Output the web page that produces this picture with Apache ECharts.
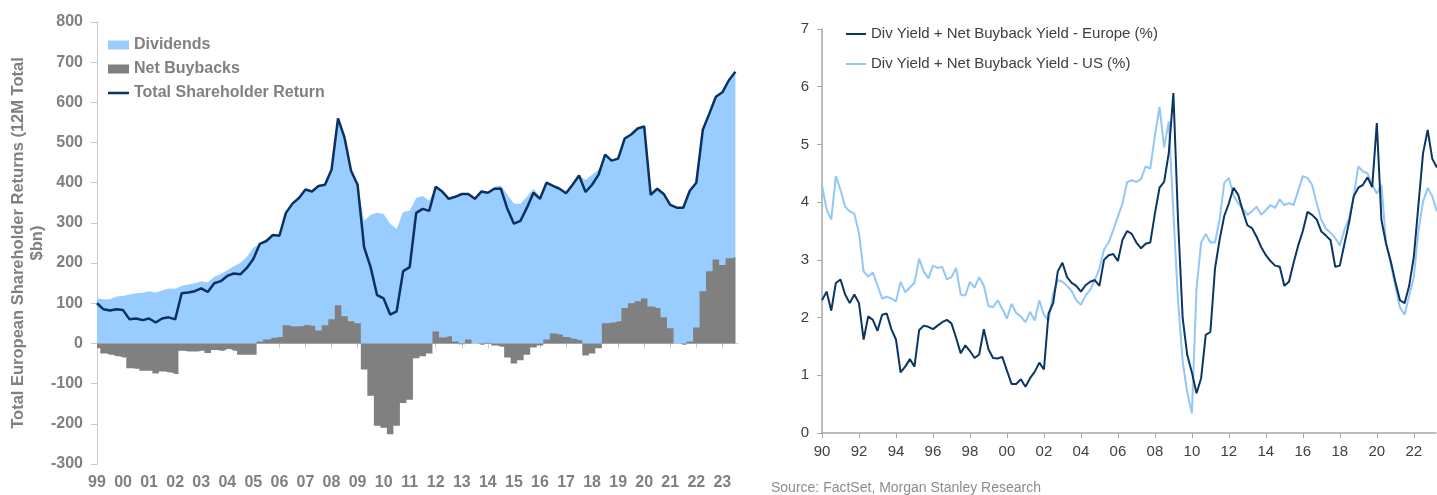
<!DOCTYPE html>
<html>
<head>
<meta charset="utf-8">
<script src="https://cdn.jsdelivr.net/npm/echarts@6/dist/echarts.min.js"></script>
<style>
  html, body { margin: 0; padding: 0; background: #fff; }
  #main { width: 1437px; height: 495px; }
</style>
</head>
<body>
<div id="main"></div>
<script>
// left panel: quarterly from 1999Q1, $bn
var leftStart = 1999;
var dividends = [
  112, 110, 110, 117,  118, 122, 125, 126,  130, 127, 132, 137,  136, 143, 147, 150,
  155, 152, 166, 173,  182, 192, 200, 216,  238, 243, 245, 256,  252, 280, 306, 319,
  337, 334, 360, 350,  372, 465, 444, 375,  345, 305, 320, 325,  322, 298, 285, 328,
  330, 362, 367, 355,  360, 363, 342, 360,  374, 362, 360, 381,  373, 390, 393, 370,
  348, 347, 366, 385,  365, 390, 367, 363,  358, 383, 410, 407,  420, 432, 420, 403,
  405, 422, 420, 430,  428, 278, 297, 307,  307, 338, 341, 375,  360, 402, 392, 405,
  430, 443, 461
];
var buybacks = [
  -12, -25, -28, -32,  -35, -62, -63, -68,  -68, -75, -70, -72,  -76, -18, -20, -20,
  -18, -24, -16, -18,  -14, -18, -28, -28,  -28, 5, 10, 14,  16, 45, 42, 43,
  46, 44, 32, 45,  60, 95, 68, 55,  50, -65, -130, -205,  -210, -226, -205, -148,
  -140, -37, -32, -25,  30, 15, 18, 5,  -2, 10, 0, -3,  2, -5, -8, -35,
  -50, -42, -28, -10,  -5, 10, 25, 22,  16, 12, 8, -30,  -25, -12, 50, 52,
  55, 88, 100, 105,  112, 92, 88, 65,  38, 0, -3, 5,  40, 130, 180, 209,
  195, 212, 215
];
var leftYears = [1999, 2000, 2001, 2002, 2003, 2004, 2005, 2006, 2007, 2008, 2009, 2010,
  2011, 2012, 2013, 2014, 2015, 2016, 2017, 2018, 2019, 2020, 2021, 2022, 2023];

// right panel: quarterly from 1990Q1, %
var rightStart = 1990;
var yieldEurope = [
  2.30, 2.45, 2.12, 2.60,  2.66, 2.40, 2.25, 2.40,  2.25, 1.62, 2.02, 1.96,  1.77, 2.05, 2.07, 1.80,
  1.62, 1.05, 1.15, 1.28,  1.15, 1.78, 1.86, 1.84,  1.80, 1.86, 1.92, 1.96,  1.90, 1.65, 1.38, 1.52,
  1.42, 1.30, 1.36, 1.80,  1.45, 1.30, 1.29, 1.32,  1.08, 0.85, 0.85, 0.93,  0.80, 0.95, 1.06, 1.22,
  1.10, 2.07, 2.25, 2.80,  2.95, 2.70, 2.60, 2.55,  2.45, 2.56, 2.62, 2.65,  2.55, 3.00, 3.08, 3.10,
  2.98, 3.35, 3.50, 3.45,  3.30, 3.20, 3.28, 3.30,  3.80, 4.25, 4.35, 4.85,  5.89, 3.70, 2.00, 1.35,
  1.05, 0.69, 0.95, 1.70,  1.75, 2.85, 3.35, 3.76,  3.98, 4.25, 4.13, 3.85,  3.60, 3.55, 3.40, 3.22,
  3.08, 2.98, 2.90, 2.88,  2.55, 2.62, 2.95, 3.25,  3.50, 3.83, 3.78, 3.70,  3.49, 3.42, 3.34, 2.88,
  2.90, 3.28, 3.65, 4.10,  4.25, 4.30, 4.43, 4.26,  5.37, 3.69, 3.28, 2.98,  2.62, 2.30, 2.25, 2.55,
  3.05, 3.95, 4.85, 5.25,  4.75, 4.60
];
var yieldUS = [
  4.30, 3.87, 3.70, 4.45,  4.21, 3.92, 3.84, 3.80,  3.46, 2.80, 2.71, 2.78,  2.56, 2.33, 2.36, 2.33,
  2.28, 2.62, 2.44, 2.52,  2.60, 3.02, 2.80, 2.68,  2.90, 2.86, 2.88, 2.66,  2.70, 2.86, 2.40, 2.38,
  2.62, 2.52, 2.70, 2.55,  2.20, 2.18, 2.30, 2.15,  1.98, 2.24, 2.08, 2.02,  1.92, 2.10, 1.95, 2.30,
  2.05, 1.95, 2.42, 2.65,  2.62, 2.55, 2.46, 2.30,  2.22, 2.38, 2.48, 2.65,  2.85, 3.18, 3.30, 3.52,
  3.75, 3.98, 4.35, 4.38,  4.35, 4.40, 4.62, 4.58,  5.15, 5.65, 4.95, 5.40,  3.81, 2.30, 1.25, 0.70,
  0.34, 2.50, 3.30, 3.45,  3.30, 3.30, 3.70, 4.33,  4.42, 4.12, 3.98, 3.89,  3.78, 3.84, 3.92, 3.78,
  3.86, 3.95, 3.90, 4.05,  3.95, 3.98, 3.95, 4.20,  4.45, 4.42, 4.30, 3.98,  3.69, 3.54, 3.47, 3.38,
  3.25, 3.52, 3.72, 4.10,  4.62, 4.53, 4.50, 4.30,  4.15, 4.30, 3.30, 2.93,  2.55, 2.18, 2.05, 2.38,
  2.70, 3.50, 4.01, 4.25,  4.10, 3.84
];
var rightYears = [1990, 1992, 1994, 1996, 1998, 2000, 2002, 2004, 2006, 2008, 2010,
  2012, 2014, 2016, 2018, 2020, 2022];

var FONT = 'Liberation Sans, Arial, sans-serif';

function quarterDates(start, n) {
  var out = [];
  for (var i = 0; i < n; i++) out.push(start + i * 0.25);
  return out;
}
function pairs(dates, values) {
  return values.map(function (v, i) { return [dates[i], v]; });
}
function yy(v) { return String(v).slice(2); }

var leftDates = quarterDates(leftStart, dividends.length);
var rightDates = quarterDates(rightStart, yieldEurope.length);
// blue sits on top of positive buybacks, below zero it starts at 0
var divTop = dividends.map(function (d, i) { return d + Math.max(buybacks[i], 0); });
var total = dividends.map(function (d, i) { return d + buybacks[i]; });

var option = {
  animation: false,
  textStyle: { fontFamily: FONT },
  title: {
    text: 'Source: FactSet, Morgan Stanley Research',
    left: 771, top: 481, padding: 0,
    textStyle: { fontFamily: FONT, fontSize: 14, fontWeight: 'normal', color: '#8c8c8c' }
  },
  legend: [
    {
      orient: 'vertical', left: 108, top: 37, padding: 0,
      itemWidth: 21, itemHeight: 9, itemGap: 8,
      itemStyle: { borderWidth: 0 },
      textStyle: { fontFamily: FONT, fontSize: 16, fontWeight: 'bold', color: '#808080', lineHeight: 16 },
      data: [
        { name: 'Dividends', icon: 'rect', itemStyle: { color: '#99CCFF' } },
        { name: 'Net Buybacks', icon: 'rect', itemStyle: { color: '#808080' } },
        { name: 'Total Shareholder Return', icon: 'path://M0,0 H21 V2.5 H0 Z', itemStyle: { color: '#0A3161' } }
      ]
    },
    {
      orient: 'vertical', left: 846, top: 26, padding: 0,
      itemWidth: 20, itemHeight: 10, itemGap: 14,
      itemStyle: { borderWidth: 0 },
      textStyle: { fontFamily: FONT, fontSize: 15, color: '#404040', lineHeight: 16 },
      data: [
        { name: 'Div Yield + Net Buyback Yield - Europe (%)', icon: 'path://M0,0 H20 V2 H0 Z', itemStyle: { color: '#0B3563' } },
        { name: 'Div Yield + Net Buyback Yield - US (%)', icon: 'path://M0,0 H20 V2 H0 Z', itemStyle: { color: '#92C7F7' } }
      ]
    }
  ],
  grid: [
    { left: 97, top: 22, width: 641, height: 442 },
    { left: 822, top: 29, width: 614, height: 404 }
  ],
  xAxis: [
    {
      gridIndex: 0, type: 'value', min: 1999, max: 2023.6, position: 'bottom',
      axisLine: { show: false, onZero: false },
      axisTick: { show: false },
      splitLine: { show: false },
      axisLabel: {
        customValues: leftYears, formatter: yy, margin: 11,
        fontFamily: FONT, fontSize: 16, fontWeight: 'bold', color: '#808080'
      }
    },
    {
      gridIndex: 0, type: 'value', min: 1999, max: 2023.6, position: 'bottom',
      axisLine: { show: true, onZero: true, lineStyle: { color: '#c8c8c8', width: 1 } },
      axisTick: { show: true, length: 5, customValues: leftYears, lineStyle: { color: '#c8c8c8' } },
      axisLabel: { show: false },
      splitLine: { show: false }
    },
    {
      gridIndex: 1, type: 'value', min: 1990, max: 2023.2, position: 'bottom',
      axisLine: { show: true, onZero: false, lineStyle: { color: '#a6a6a6', width: 1.5 } },
      axisTick: { show: true, length: 5, customValues: rightYears, lineStyle: { color: '#a6a6a6' } },
      splitLine: { show: false },
      axisLabel: {
        customValues: rightYears, formatter: yy, margin: 11,
        fontFamily: FONT, fontSize: 15, color: '#404040'
      }
    }
  ],
  yAxis: [
    {
      gridIndex: 0, type: 'value', min: -300, max: 800, interval: 100,
      name: 'Total European Shareholder Returns (12M Total\n$bn)',
      nameLocation: 'middle', nameGap: 49, nameRotate: 90,
      nameTextStyle: { fontFamily: FONT, fontSize: 16.5, fontWeight: 'bold', color: '#808080', lineHeight: 19, align: 'center' },
      axisLine: { show: true, lineStyle: { color: '#c8c8c8', width: 1 } },
      axisTick: { show: true, length: 6, lineStyle: { color: '#c8c8c8' } },
      splitLine: { show: false },
      axisLabel: { margin: 14, fontFamily: FONT, fontSize: 16, fontWeight: 'bold', color: '#808080' }
    },
    {
      gridIndex: 1, type: 'value', min: 0, max: 7, interval: 1,
      axisLine: { show: true, lineStyle: { color: '#a6a6a6', width: 1.5 } },
      axisTick: { show: true, length: 5, lineStyle: { color: '#a6a6a6' } },
      splitLine: { show: false },
      axisLabel: { margin: 13, fontFamily: FONT, fontSize: 15, color: '#404040' }
    }
  ],
  series: [
    {
      name: 'Dividends', type: 'line', xAxisIndex: 0, yAxisIndex: 0,
      showSymbol: false, symbol: 'none',
      color: '#99CCFF', lineStyle: { width: 0 },
      areaStyle: { color: '#99CCFF', opacity: 1 },
      data: pairs(leftDates, divTop)
    },
    {
      name: 'Net Buybacks', type: 'line', xAxisIndex: 0, yAxisIndex: 0,
      step: 'middle', showSymbol: false, symbol: 'none',
      color: '#808080', lineStyle: { width: 0 },
      areaStyle: { color: '#808080', opacity: 1 },
      data: pairs(leftDates, buybacks)
    },
    {
      name: 'Total Shareholder Return', type: 'line', xAxisIndex: 0, yAxisIndex: 0,
      showSymbol: false, symbol: 'none', z: 5,
      color: '#0A3161', lineStyle: { width: 2.5, color: '#0A3161' },
      data: pairs(leftDates, total)
    },
    {
      name: 'Div Yield + Net Buyback Yield - US (%)', type: 'line', xAxisIndex: 2, yAxisIndex: 1,
      showSymbol: false, symbol: 'none',
      color: '#92C7F7', lineStyle: { width: 2, color: '#92C7F7' },
      data: pairs(rightDates, yieldUS)
    },
    {
      name: 'Div Yield + Net Buyback Yield - Europe (%)', type: 'line', xAxisIndex: 2, yAxisIndex: 1,
      showSymbol: false, symbol: 'none',
      color: '#0B3563', lineStyle: { width: 2, color: '#0B3563' },
      data: pairs(rightDates, yieldEurope)
    }
  ]
};

var chart = echarts.init(document.getElementById('main'));
chart.setOption(option);
</script>
</body>
</html>
